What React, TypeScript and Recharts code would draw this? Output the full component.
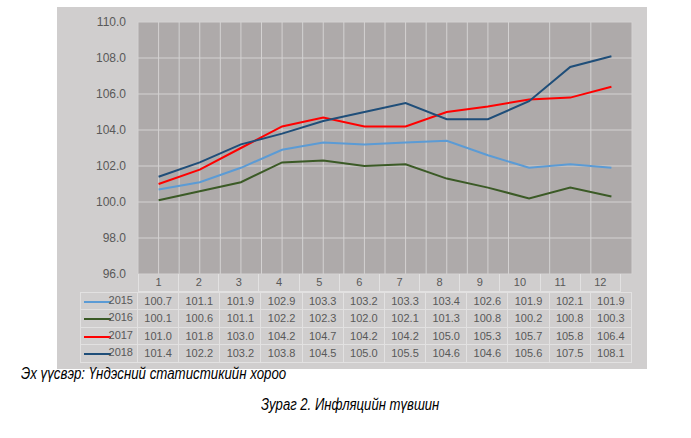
import React from 'react';
import { LineChart, Line, XAxis, YAxis, CartesianGrid } from 'recharts';

const months = ['1', '2', '3', '4', '5', '6', '7', '8', '9', '10', '11', '12'];
const years = ['2015', '2016', '2017', '2018'];
const s2015 = [100.7, 101.1, 101.9, 102.9, 103.3, 103.2, 103.3, 103.4, 102.6, 101.9, 102.1, 101.9];
const s2016 = [100.1, 100.6, 101.1, 102.2, 102.3, 102.0, 102.1, 101.3, 100.8, 100.2, 100.8, 100.3];
const s2017 = [101.0, 101.8, 103.0, 104.2, 104.7, 104.2, 104.2, 105.0, 105.3, 105.7, 105.8, 106.4];
const s2018 = [101.4, 102.2, 103.2, 103.8, 104.5, 105.0, 105.5, 104.6, 104.6, 105.6, 107.5, 108.1];
const yTicks = [96, 98, 100, 102, 104, 106, 108, 110];
const sourceText = 'Эх үүсвэр: Үндэсний статистикийн хороо';
const captionText = 'Зураг 2. Инфляцийн түвшин';

const seriesList = [
  { key: 'y2015', name: years[0], values: s2015, color: '#5b9bd5' },
  { key: 'y2016', name: years[1], values: s2016, color: '#3b5a26' },
  { key: 'y2017', name: years[2], values: s2017, color: '#ff0000' },
  { key: 'y2018', name: years[3], values: s2018, color: '#1f4e79' },
];

const data = months.map((m, i) => {
  const row: any = { m: i + 1 };
  seriesList.forEach((s) => (row[s.key] = s.values[i]));
  return row;
});

const gridTicks: number[] = [];
for (let i = 0; i <= months.length * 2; i++) gridTicks.push(0.5 + i * 0.5);

const W = 691;
const H = 438;
const PLOT_L = 138;
const PLOT_R = 632;
const PLOT_T = 22;
const PLOT_B = 274;
const YAXIS_W = 60;
const colW = (PLOT_R - PLOT_L) / months.length;
const rowH = 17.5;
const legendL = 80;
const border = '#e2e1e1';
const textColor = '#595959';
const font = '"Liberation Sans", Arial, sans-serif';

export default function App() {
  return (
    <div style={{ position: 'absolute', left: 0, top: 0, width: W, height: H, background: '#fff', fontFamily: font }}>
      <div style={{ position: 'absolute', left: 57, top: 7, width: 590, height: 362, background: '#d0cece' }} />
      <div style={{ position: 'absolute', left: 0, top: 0 }}>
        <LineChart
          width={W}
          height={H}
          data={data}
          margin={{ left: PLOT_L - YAXIS_W, right: W - PLOT_R, top: PLOT_T, bottom: H - PLOT_B }}
        >
          <CartesianGrid fill="#aeaaaa" stroke="#d4d2d2" strokeWidth={1} />
          <XAxis dataKey="m" type="number" domain={[0.5, months.length + 0.5]} ticks={gridTicks} hide />
          <YAxis
            width={YAXIS_W}
            domain={[96, 110]}
            ticks={yTicks}
            tickFormatter={(v: number) => v.toFixed(1)}
            axisLine={false}
            tickLine={false}
            tickMargin={6}
            tick={{ fill: textColor, fontSize: 12, fontFamily: font }}
          />
          {seriesList.map((s) => (
            <Line
              key={s.key}
              dataKey={s.key}
              name={s.name}
              stroke={s.color}
              strokeWidth={2}
              dot={false}
              type="linear"
              isAnimationActive={false}
            />
          ))}
        </LineChart>
      </div>
      {/* data table */}
      <div style={{ position: 'absolute', left: PLOT_L, top: PLOT_B, display: 'flex' }}>
        {months.map((m) => (
          <div
            key={m}
            style={{
              width: colW,
              height: rowH,
              boxSizing: 'border-box',
              borderLeft: `1px solid ${border}`,
              borderRight: `1px solid ${border}`,
              borderBottom: `1px solid ${border}`,
              marginRight: -1,
              color: textColor,
              fontSize: 11,
              textAlign: 'center',
              lineHeight: `${rowH}px`,
            }}
          >
            {m}
          </div>
        ))}
      </div>
      {seriesList.map((s, r) => (
        <div
          key={s.key}
          style={{ position: 'absolute', left: legendL, top: PLOT_B + rowH * (r + 1), display: 'flex' }}
        >
          <div
            style={{
              width: PLOT_L - legendL,
              height: rowH + 1,
              boxSizing: 'border-box',
              border: `1px solid ${border}`,
              position: 'relative',
              color: textColor,
              fontSize: 11,
              lineHeight: `${rowH}px`,
            }}
          >
            <div style={{ position: 'absolute', left: 3, top: 8, width: 27, height: 2, background: s.color }} />
            <div style={{ position: 'absolute', right: 4, top: -1 }}>{s.name}</div>
          </div>
          {s.values.map((v, i) => (
            <div
              key={i}
              style={{
                width: colW + 1,
                height: rowH + 1,
                boxSizing: 'border-box',
                border: `1px solid ${border}`,
                marginLeft: -1,
                color: textColor,
                fontSize: 11,
                textAlign: 'center',
                lineHeight: `${rowH - 1}px`,
              }}
            >
              {v.toFixed(1)}
            </div>
          ))}
        </div>
      ))}
      <div
        style={{
          position: 'absolute',
          left: 21,
          top: 365,
          fontSize: 16,
          lineHeight: '18px',
          fontStyle: 'italic',
          color: '#000',
          whiteSpace: 'nowrap',
          transform: 'scaleX(0.83)',
          transformOrigin: 'left top',
        }}
      >
        {sourceText}
      </div>
      <div
        style={{
          position: 'absolute',
          left: 261,
          top: 396,
          fontSize: 16,
          lineHeight: '18px',
          fontStyle: 'italic',
          color: '#000',
          whiteSpace: 'nowrap',
          transform: 'scaleX(0.82)',
          transformOrigin: 'left top',
        }}
      >
        {captionText}
      </div>
    </div>
  );
}
